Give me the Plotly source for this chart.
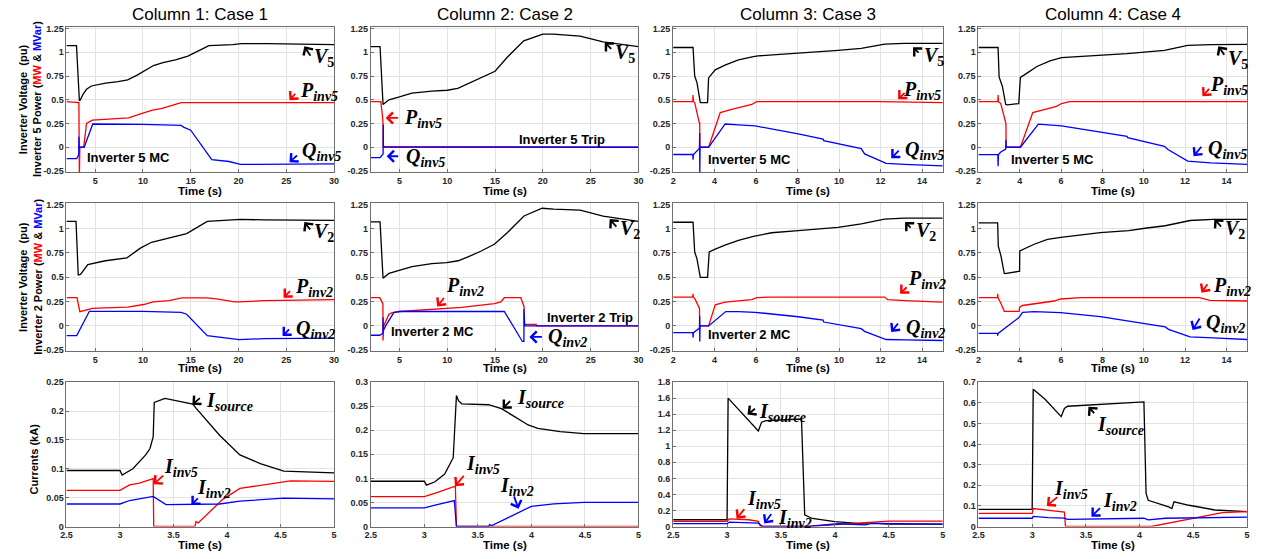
import plotly.graph_objects as go

BLACK, RED, BLUE = "#000000", "#ff0000", "#0000ff"

# ======================= DATA =======================
# ---- Row 1 : Inverter 5 voltage / power (time in s) ----
c1_v5_t = [2, 3.05, 3.35, 3.45, 3.75, 4.1, 4.6, 5.2, 6.1, 7.4, 8.4, 9.4, 10.3, 11.1, 12.1, 13.4, 14.7, 15.7, 16.9, 19.4, 20.3, 23, 30]
c1_v5 = [1.07, 1.07, 0.49, 0.50, 0.56, 0.61, 0.645, 0.66, 0.675, 0.69, 0.71, 0.76, 0.81, 0.86, 0.89, 0.92, 0.96, 1.01, 1.07, 1.08, 1.09, 1.09, 1.08]
c1_p5_t = [2, 3.3, 3.35, 3.4, 3.8, 4.1, 4.7, 6, 8.5, 10, 11, 12, 13, 14, 30]
c1_p5 = [0.48, 0.47, -0.3, 0.0, 0.0, 0.25, 0.285, 0.295, 0.31, 0.36, 0.39, 0.41, 0.44, 0.47, 0.47]
c1_q5_t = [2, 3.07, 3.28, 3.3, 3.33, 3.4, 3.85, 4.75, 8, 10, 12, 14, 14.3, 15, 17.2, 19, 20.2, 22, 30]
c1_q5 = [-0.12, -0.12, -0.08, 0.11, -0.02, 0.0, 0.0, 0.245, 0.245, 0.24, 0.235, 0.23, 0.21, 0.18, -0.13, -0.15, -0.18, -0.18, -0.175]

c2_v5_t = [2, 2.97, 3.28, 3.9, 5, 6.3, 8.4, 10, 11.1, 12.2, 13.2, 14.2, 15, 16.3, 18, 20, 21.1, 23.9, 26.3, 30]
c2_v5 = [1.06, 1.06, 0.45, 0.50, 0.53, 0.57, 0.59, 0.60, 0.62, 0.67, 0.71, 0.76, 0.80, 0.95, 1.12, 1.19, 1.19, 1.17, 1.11, 1.06]
c2_p5_t = [2, 3.05, 3.25, 3.28, 3.3, 30]
c2_p5 = [0.48, 0.48, 0.30, 0.25, 0.0, 0.0]
c2_q5_t = [2, 2.97, 3.2, 3.29, 3.3, 3.32, 3.5, 30]
c2_q5 = [-0.11, -0.11, -0.08, -0.07, 0.24, 0.01, 0.005, 0.0]

c3_v5_t = [2, 2.96, 3.04, 3.15, 3.31, 3.66, 3.71, 4.03, 4.5, 5.15, 5.87, 6.1, 8.03, 9.3, 9.95, 11.07, 12.2, 13.15, 15]
c3_v5 = [1.05, 1.05, 0.75, 0.68, 0.47, 0.47, 0.73, 0.815, 0.865, 0.92, 0.955, 0.962, 0.99, 1.007, 1.02, 1.04, 1.085, 1.094, 1.094]
c3_p5_t = [2, 2.95, 2.96, 2.98, 3.04, 3.2, 3.26, 3.28, 3.29, 3.71, 4.27, 4.83, 5.79, 6.03, 12, 15]
c3_p5 = [0.48, 0.48, 0.55, 0.48, 0.47, 0.30, 0.26, 0.26, 0.0, 0.0, 0.365, 0.40, 0.45, 0.48, 0.48, 0.47]
c3_q5_t = [2, 2.95, 2.96, 2.98, 3.23, 3.27, 3.28, 3.285, 3.3, 3.71, 4.51, 5.15, 5.95, 8.03, 9.23, 9.26, 11.07, 11.23, 12.27, 13.15, 15]
c3_q5 = [-0.076, -0.076, -0.13, -0.076, -0.02, -0.01, 0.15, -0.3, 0.0, 0.0, 0.245, 0.235, 0.225, 0.14, 0.087, 0.07, -0.015, -0.07, -0.17, -0.18, -0.195]

c4_v5_t = [2, 2.95, 3.0, 3.16, 3.32, 3.4, 3.95, 4.0, 4.03, 4.35, 4.83, 5.46, 6.02, 8.0, 9.19, 11.0, 12.13, 13.24, 15]
c4_v5 = [1.05, 1.05, 0.74, 0.64, 0.45, 0.446, 0.46, 0.6, 0.735, 0.78, 0.85, 0.91, 0.944, 0.97, 0.986, 1.02, 1.073, 1.08, 1.083]
c4_p5_t = [2, 2.94, 2.95, 2.97, 3.08, 3.24, 3.32, 3.33, 3.34, 4.03, 4.63, 5.3, 5.78, 6.02, 6.41, 15]
c4_p5 = [0.48, 0.48, 0.55, 0.48, 0.46, 0.31, 0.25, 0.25, 0.0, 0.0, 0.365, 0.40, 0.43, 0.46, 0.48, 0.48]
c4_q5_t = [2, 2.94, 2.95, 2.97, 3.08, 3.32, 3.33, 3.34, 4.03, 4.9, 6.02, 8.0, 9.19, 9.22, 11.0, 11.17, 12.13, 13.24, 15]
c4_q5 = [-0.077, -0.077, -0.2, -0.077, -0.05, -0.02, 0.08, 0.0, 0.0, 0.244, 0.226, 0.157, 0.115, 0.10, 0.01, -0.024, -0.146, -0.164, -0.18]

# ---- Row 2 : Inverter 2 voltage / power ----
c1_v2_t = [2, 3.0, 3.23, 3.47, 4.23, 5.07, 6.07, 8.33, 9.73, 10.9, 11.73, 13.4, 14.57, 16.73, 19.4, 20.2, 22.7, 30]
c1_v2 = [1.075, 1.075, 0.525, 0.53, 0.63, 0.65, 0.67, 0.70, 0.80, 0.86, 0.88, 0.925, 0.95, 1.075, 1.085, 1.095, 1.09, 1.085]
c1_p2_t = [2, 3.1, 3.4, 4.73, 6.07, 8.4, 10.07, 11.07, 12.73, 14.07, 16.7, 17.7, 19.57, 20.07, 22.7, 30]
c1_p2 = [0.29, 0.29, 0.146, 0.18, 0.186, 0.193, 0.22, 0.247, 0.26, 0.288, 0.288, 0.278, 0.247, 0.247, 0.26, 0.27]
c1_q2_t = [2, 3.07, 4.4, 5, 10, 14, 14.57, 16.73, 19.4, 20.07, 22.7, 30]
c1_q2 = [-0.10, -0.10, 0.15, 0.15, 0.15, 0.14, 0.12, -0.10, -0.135, -0.142, -0.13, -0.125]

c2_v2_t = [2, 2.97, 3.28, 3.9, 6.31, 8.38, 9.93, 11.14, 12.17, 13.55, 14.93, 16.3, 18.03, 19.93, 21.14, 23.9, 26.3, 30]
c2_v2 = [1.07, 1.07, 0.49, 0.54, 0.61, 0.64, 0.65, 0.67, 0.71, 0.77, 0.84, 0.96, 1.13, 1.21, 1.2, 1.19, 1.13, 1.075]
c2_p2_t = [2, 2.93, 3.21, 3.27, 3.28, 3.3, 3.35, 3.9, 4.24, 5, 8.38, 11.5, 14.93, 15.6, 15.97, 17.69, 18.03, 18.05, 19.3, 19.32, 30]
c2_p2 = [0.29, 0.29, 0.24, 0.22, -0.15, 0.0, 0.0, 0.12, 0.137, 0.148, 0.17, 0.19, 0.23, 0.247, 0.29, 0.29, 0.2, 0.015, 0.015, 0.0, 0.0]
c2_q2_t = [2, 2.93, 3.2, 3.27, 3.28, 3.3, 3.55, 4.41, 5, 15.97, 17.86, 18.02, 18.03, 18.1, 30]
c2_q2 = [-0.096, -0.096, -0.08, -0.07, 0.09, -0.05, 0.0, 0.137, 0.148, 0.148, -0.16, -0.16, 0.17, 0.0, 0.0]

c3_v2_t = [2, 2.96, 3.04, 3.15, 3.31, 3.66, 3.74, 4.03, 4.5, 5.15, 5.87, 6.75, 8.03, 9.23, 9.95, 11.07, 12.19, 13.15, 15]
c3_v2 = [1.066, 1.066, 0.76, 0.69, 0.50, 0.50, 0.76, 0.79, 0.83, 0.88, 0.92, 0.958, 0.979, 0.997, 1.014, 1.05, 1.098, 1.108, 1.108]
c3_p2_t = [2, 2.95, 2.96, 2.98, 3.07, 3.23, 3.27, 3.28, 3.71, 4.03, 4.5, 5.79, 6.03, 6.75, 12.19, 12.35, 13.15, 15]
c3_p2 = [0.297, 0.297, 0.33, 0.297, 0.27, 0.19, 0.18, 0.0, 0.0, 0.217, 0.245, 0.27, 0.29, 0.297, 0.297, 0.27, 0.26, 0.245]
c3_q2_t = [2, 2.95, 2.96, 2.98, 3.23, 3.27, 3.28, 3.285, 3.3, 3.71, 4.54, 5.15, 5.95, 8.03, 9.23, 9.26, 11.07, 11.23, 12.27, 13.15, 15]
c3_q2 = [-0.07, -0.07, -0.12, -0.07, -0.03, -0.02, 0.10, -0.16, 0.0, 0.0, 0.147, 0.147, 0.14, 0.094, 0.06, 0.04, -0.028, -0.056, -0.14, -0.143, -0.15]

c4_v2_t = [2, 2.93, 2.96, 3.09, 3.25, 3.28, 3.93, 3.99, 4.0, 4.21, 4.7, 5.34, 5.98, 7.9, 9.27, 10.15, 11.04, 12.24, 13.36, 15]
c4_v2 = [1.06, 1.06, 0.82, 0.72, 0.54, 0.537, 0.56, 0.56, 0.77, 0.79, 0.84, 0.89, 0.91, 0.96, 0.98, 1.007, 1.03, 1.084, 1.095, 1.095]
c4_p2_t = [2, 2.92, 2.93, 2.95, 3.09, 3.25, 3.97, 3.99, 4.13, 5.02, 5.66, 5.98, 6.94, 12.7, 13.2, 15]
c4_p2 = [0.29, 0.29, 0.33, 0.29, 0.23, 0.15, 0.15, 0.19, 0.21, 0.235, 0.256, 0.277, 0.29, 0.29, 0.263, 0.256]
c4_q2_t = [2, 2.92, 2.93, 2.95, 3.97, 4.13, 4.7, 5.98, 7.9, 9.27, 10.15, 11.04, 11.2, 12.24, 13.36, 15]
c4_q2 = [-0.077, -0.077, -0.1, -0.077, 0.088, 0.14, 0.147, 0.137, 0.095, 0.046, 0.018, -0.01, -0.035, -0.112, -0.123, -0.14]

# ---- Row 3 : currents (kA) ----
c1_is_t = [2.5, 3.0, 3.02, 3.12, 3.24, 3.28, 3.31, 3.32, 3.42, 3.68, 3.71, 3.93, 4.12, 4.31, 4.53, 5]
c1_is = [0.097, 0.097, 0.089, 0.10, 0.124, 0.135, 0.155, 0.215, 0.222, 0.212, 0.205, 0.158, 0.124, 0.109, 0.096, 0.093]
c1_i5_t = [2.5, 3.0, 3.09, 3.18, 3.31, 3.315, 3.7, 3.71, 3.73, 3.96, 4.12, 4.59, 5]
c1_i5 = [0.0626, 0.0626, 0.072, 0.075, 0.083, 0.0, 0.0, 0.0085, 0.006, 0.047, 0.066, 0.079, 0.078]
c1_i2_t = [2.5, 3.0, 3.09, 3.31, 3.43, 3.93, 4.12, 4.53, 5]
c1_i2 = [0.039, 0.039, 0.045, 0.052, 0.038, 0.039, 0.044, 0.049, 0.048]

c2_is_t = [2.5, 3.0, 3.02, 3.1, 3.19, 3.27, 3.3, 3.32, 3.35, 3.6, 3.72, 3.97, 4.06, 4.27, 4.49, 5]
c2_is = [0.094, 0.094, 0.086, 0.093, 0.109, 0.143, 0.272, 0.261, 0.255, 0.253, 0.245, 0.211, 0.204, 0.197, 0.193, 0.193]
c2_i5_t = [2.5, 3.0, 3.11, 3.29, 3.3, 5]
c2_i5 = [0.062, 0.062, 0.07, 0.084, 0.0, 0.0]
c2_i2_t = [2.5, 3.0, 3.11, 3.28, 3.3, 3.6, 3.61, 3.63, 4.0, 4.21, 4.49, 5]
c2_i2 = [0.0385, 0.0385, 0.045, 0.054, 0.0, 0.0, 0.004, 0.002, 0.042, 0.047, 0.05, 0.05]

c3_is_t = [2.5, 3.0, 3.01, 3.29, 3.32, 3.36, 3.69, 3.72, 3.79, 4.0, 4.3, 4.305, 4.32, 4.5, 5]
c3_is = [0.084, 0.084, 1.60, 1.19, 1.30, 1.32, 1.34, 0.146, 0.10, 0.06, 0.03, 0.05, 0.045, 0.03, 0.03]
c3_i5_t = [2.5, 3.0, 3.02, 3.2, 3.29, 3.31, 3.75, 4.34, 4.5, 5]
c3_i5 = [0.063, 0.063, 0.096, 0.084, 0.063, 0.0, 0.0, 0.06, 0.068, 0.068]
c3_i2_t = [2.5, 3.0, 3.02, 3.29, 3.33, 3.75, 4.03, 4.28, 4.34, 5]
c3_i2 = [0.035, 0.035, 0.054, 0.042, 0.0, 0.0, 0.034, 0.02, 0.04, 0.03]

c4_is_t = [2.5, 3.0, 3.01, 3.09, 3.12, 3.27, 3.3, 3.33, 4.04, 4.06, 4.08, 4.27, 4.3, 4.32, 4.46, 4.7, 5]
c4_is = [0.083, 0.083, 0.665, 0.628, 0.617, 0.533, 0.572, 0.583, 0.604, 0.16, 0.127, 0.095, 0.087, 0.12, 0.103, 0.08, 0.072]
c4_i5_t = [2.5, 3.0, 3.01, 3.27, 3.3, 3.31, 4.11, 4.77, 5]
c4_i5 = [0.064, 0.064, 0.087, 0.072, 0.07, 0.0, 0.0, 0.067, 0.072]
c4_i2_t = [2.5, 3.0, 3.01, 3.15, 3.3, 3.33, 4.04, 4.08, 4.24, 5]
c4_i2 = [0.04, 0.04, 0.049, 0.043, 0.041, 0.035, 0.04, 0.032, 0.04, 0.045]

# ---- ticks ----
pq_ticks = [-0.25, 0, 0.25, 0.5, 0.75, 1, 1.25]
pq_ticktext = ["-0.25", "0", "0.25", "0.5", "0.75", "1", "1.25"]
long_xticks = [5, 10, 15, 20, 25, 30]
short_xticks = [2, 4, 6, 8, 10, 12, 14]
cur_xticks = [2.5, 3, 3.5, 4, 4.5, 5]
cur1_ticks = [0, 0.05, 0.1, 0.15, 0.2, 0.25]
cur1_ticktext = ["0", "0.05", "0.1", "0.15", "0.2", "0.25"]
cur2_ticks = [0, 0.05, 0.1, 0.15, 0.2, 0.25, 0.3]
cur2_ticktext = ["0", "0.05", "0.1", "0.15", "0.2", "0.25", "0.3"]
cur3_ticks = [0, 0.2, 0.4, 0.6, 0.8, 1, 1.2, 1.4, 1.6, 1.8]
cur3_ticktext = ["0", "0.2", "0.4", "0.6", "0.8", "1", "1.2", "1.4", "1.6", "1.8"]
cur4_ticks = [0, 0.1, 0.2, 0.3, 0.4, 0.5, 0.6, 0.7]
cur4_ticktext = ["0", "0.1", "0.2", "0.3", "0.4", "0.5", "0.6", "0.7"]

col_titles = ["Column 1: Case 1", "Column 2: Case 2", "Column 3: Case 3", "Column 4: Case 4"]

# ======================= LAYOUT =======================
W, H = 1261, 559
col_px = [(61, 331), (368, 638), (673, 945), (981, 1252)]   # page pixels
row_px = [(22, 170), (202, 352), (384, 531)]

SANS = "Liberation Sans, Arial, sans-serif"
MATH = "Liberation Serif, Times New Roman, serif"

def px(x, y):
    return x / W, 1 - y / H

panels = {
    (0, 0): dict(tr=[(c1_v5_t, c1_v5, BLACK), (c1_p5_t, c1_p5, RED), (c1_q5_t, c1_q5, BLUE)],
                 xr=[2, 30], xt=long_xticks, yr=[-0.26, 1.27], yt=pq_ticks, ytt=pq_ticktext),
    (0, 1): dict(tr=[(c2_v5_t, c2_v5, BLACK), (c2_p5_t, c2_p5, RED), (c2_q5_t, c2_q5, BLUE)],
                 xr=[2, 30], xt=long_xticks, yr=[-0.26, 1.27], yt=pq_ticks, ytt=pq_ticktext),
    (0, 2): dict(tr=[(c3_v5_t, c3_v5, BLACK), (c3_p5_t, c3_p5, RED), (c3_q5_t, c3_q5, BLUE)],
                 xr=[2, 15], xt=short_xticks, yr=[-0.26, 1.27], yt=pq_ticks, ytt=pq_ticktext),
    (0, 3): dict(tr=[(c4_v5_t, c4_v5, BLACK), (c4_p5_t, c4_p5, RED), (c4_q5_t, c4_q5, BLUE)],
                 xr=[2, 15], xt=short_xticks, yr=[-0.26, 1.27], yt=pq_ticks, ytt=pq_ticktext),
    (1, 0): dict(tr=[(c1_v2_t, c1_v2, BLACK), (c1_p2_t, c1_p2, RED), (c1_q2_t, c1_q2, BLUE)],
                 xr=[2, 30], xt=long_xticks, yr=[-0.255, 1.26], yt=pq_ticks, ytt=pq_ticktext),
    (1, 1): dict(tr=[(c2_v2_t, c2_v2, BLACK), (c2_p2_t, c2_p2, RED), (c2_q2_t, c2_q2, BLUE)],
                 xr=[2, 30], xt=long_xticks, yr=[-0.255, 1.26], yt=pq_ticks, ytt=pq_ticktext),
    (1, 2): dict(tr=[(c3_v2_t, c3_v2, BLACK), (c3_p2_t, c3_p2, RED), (c3_q2_t, c3_q2, BLUE)],
                 xr=[2, 15], xt=short_xticks, yr=[-0.255, 1.26], yt=pq_ticks, ytt=pq_ticktext),
    (1, 3): dict(tr=[(c4_v2_t, c4_v2, BLACK), (c4_p2_t, c4_p2, RED), (c4_q2_t, c4_q2, BLUE)],
                 xr=[2, 15], xt=short_xticks, yr=[-0.255, 1.26], yt=pq_ticks, ytt=pq_ticktext),
    (2, 0): dict(tr=[(c1_is_t, c1_is, BLACK), (c1_i5_t, c1_i5, RED), (c1_i2_t, c1_i2, BLUE)],
                 xr=[2.5, 5], xt=cur_xticks, yr=[0, 0.25], yt=cur1_ticks, ytt=cur1_ticktext),
    (2, 1): dict(tr=[(c2_is_t, c2_is, BLACK), (c2_i5_t, c2_i5, RED), (c2_i2_t, c2_i2, BLUE)],
                 xr=[2.5, 5], xt=cur_xticks, yr=[0, 0.3], yt=cur2_ticks, ytt=cur2_ticktext),
    (2, 2): dict(tr=[(c3_is_t, c3_is, BLACK), (c3_i5_t, c3_i5, RED), (c3_i2_t, c3_i2, BLUE)],
                 xr=[2.5, 5], xt=cur_xticks, yr=[0, 1.8], yt=cur3_ticks, ytt=cur3_ticktext),
    (2, 3): dict(tr=[(c4_is_t, c4_is, BLACK), (c4_i5_t, c4_i5, RED), (c4_i2_t, c4_i2, BLUE)],
                 xr=[2.5, 5], xt=cur_xticks, yr=[0, 0.7], yt=cur4_ticks, ytt=cur4_ticktext),
}

fig = go.Figure()
layout = {}
for (r, c), p in panels.items():
    k = r * 4 + c + 1
    xs = "" if k == 1 else str(k)
    x0, x1 = col_px[c]
    y0, y1 = row_px[r]
    for t, v, color in p["tr"]:
        fig.add_trace(go.Scatter(x=t, y=v, mode="lines", line=dict(color=color, width=1.3),
                                 xaxis="x" + xs, yaxis="y" + xs, hoverinfo="skip", showlegend=False))
    common = dict(showline=True, mirror=True, linecolor="#6e6e6e", linewidth=1,
                  showgrid=True, gridcolor="#e3e3e3", gridwidth=1, zeroline=False,
                  ticks="inside", ticklen=3, tickcolor="#6e6e6e",
                  tickfont=dict(family=SANS, size=9, color="#262626", weight="bold"))
    layout["xaxis" + xs] = dict(common, domain=[x0 / W, x1 / W], range=p["xr"],
                                tickvals=p["xt"], anchor="y" + xs)
    layout["yaxis" + xs] = dict(common, domain=[1 - y1 / H, 1 - y0 / H], range=p["yr"],
                                tickvals=p["yt"], ticktext=p["ytt"], anchor="x" + xs)

anns = []
for c, title in enumerate(col_titles):
    cx = (col_px[c][0] + col_px[c][1]) / 2
    x, y = px(cx, 10)
    anns.append(dict(x=x, y=y, xref="paper", yref="paper", text=title, showarrow=False,
                     font=dict(family=SANS, size=17, color="#000"), xanchor="center", yanchor="middle"))
for r, ty in enumerate([189, 370, 550]):
    for c in range(4):
        cx = (col_px[c][0] + col_px[c][1]) / 2
        x, y = px(cx, ty)
        anns.append(dict(x=x, y=y, xref="paper", yref="paper", text="Time (s)", showarrow=False,
                         font=dict(family=SANS, size=11.5, color="#000", weight="bold"),
                         xanchor="center", yanchor="middle"))

def ytitle(text, xc, yc):
    x, y = px(xc, yc)
    anns.append(dict(x=x, y=y, xref="paper", yref="paper", text=text, showarrow=False, textangle=-90,
                     font=dict(family=SANS, size=11, color="#000", weight="bold"),
                     xanchor="center", yanchor="middle"))

ytitle("Inverter Voltage  (pu)", 17, 96)
ytitle("Inverter 5 Power (<span style='color:#ff0000'>MW</span> &amp; <span style='color:#0000ff'>MVar</span>)", 32, 96)
ytitle("Inverter Voltage  (pu)", 17, 277)
ytitle("Inverter 2 Power (<span style='color:#ff0000'>MW</span> &amp; <span style='color:#0000ff'>MVar</span>)", 32, 277)
ytitle("Currents (kA)", 28, 462)

def note(text, xl, yc):
    x, y = px(xl, yc)
    anns.append(dict(x=x, y=y, xref="paper", yref="paper", text=text, showarrow=False,
                     font=dict(family=SANS, size=13, color="#000", weight="bold"),
                     xanchor="left", yanchor="middle"))

note("Inverter 5 MC", 80, 155)
note("Inverter 5 Trip", 516, 137)
note("Inverter 5 MC", 706, 157)
note("Inverter 5 MC", 1012, 157)
note("Inverter 2 MC", 386, 332)
note("Inverter 2 Trip", 544, 318)
note("Inverter 2 MC", 706, 335)

def arrow(tip, tail, color):
    x, y = px(*tip)
    anns.append(dict(x=x, y=y, xref="paper", yref="paper", text="", showarrow=True,
                     ax=tail[0] - tip[0], ay=tail[1] - tip[1], arrowhead=4, arrowsize=1.2,
                     arrowwidth=1.8, arrowcolor=color))

def label(text, xl, yc, size=20):
    x, y = px(xl, yc)
    anns.append(dict(x=x, y=y, xref="paper", yref="paper", text=text, showarrow=False,
                     font=dict(family=MATH, size=size, color="#000"), xanchor="left", yanchor="middle"))

V5 = "<b><i>V</i><sub>5</sub></b>"
V2 = "<b><i>V</i><sub>2</sub></b>"
P5 = "<b><i>P<sub>inv5</sub></i></b>"
Q5 = "<b><i>Q<sub>inv5</sub></i></b>"
P2 = "<b><i>P<sub>inv2</sub></i></b>"
Q2 = "<b><i>Q<sub>inv2</sub></i></b>"
IS = "<b><i>I<sub>source</sub></i></b>"
I5 = "<b><i>I<sub>inv5</sub></i></b>"
I2 = "<b><i>I<sub>inv2</sub></i></b>"

marks = [
    ((301, 42), (308, 53), BLACK, V5, 309, 53),
    ((286, 97), (293, 89), RED, P5, 295, 88),
    ((286, 160), (295, 152), BLUE, Q5, 297, 149),
    ((604, 38), (612, 46), BLACK, V5, 612, 49),
    ((383, 115), (397, 115), RED, P5, 399, 116),
    ((384, 154), (397, 154), BLUE, Q5, 401, 155),
    ((915, 43), (922, 50), BLACK, V5, 924, 52),
    ((900, 96), (908, 88), RED, P5, 903, 87),
    ((893, 156), (902, 147), BLUE, Q5, 905, 148),
    ((1223, 42), (1230, 52), BLACK, V5, 1231, 56),
    ((1207, 93), (1215, 84), RED, P5, 1213, 82),
    ((1198, 154), (1207, 143), BLUE, Q5, 1211, 147),
    ((301, 221), (308, 230), BLACK, V2, 309, 232),
    ((280, 298), (288, 290), RED, P2, 290, 288),
    ((279, 337), (287, 329), BLUE, Q2, 291, 330),
    ((609, 218), (617, 227), BLACK, V2, 617, 229),
    ((435, 307), (443, 297), RED, P2, 442, 287),
    ((528, 338), (542, 338), BLUE, Q2, 545, 339),
    ((907, 221), (914, 228), BLACK, V2, 916, 231),
    ((902, 294), (910, 286), RED, P2, 908, 279),
    ((893, 333), (901, 323), BLUE, Q2, 906, 329),
    ((1219, 218), (1227, 227), BLACK, V2, 1228, 229),
    ((1206, 293), (1213, 283), RED, P2, 1216, 287),
    ((1197, 331), (1205, 318), BLUE, Q2, 1209, 324),
    ((188, 407), (197, 399), BLACK, IS, 200, 404),
    ((149, 488), (160, 478), RED, I5, 157, 471),
    ((187, 509), (195, 501), BLUE, I2, 191, 492),
    ((501, 411), (510, 402), BLACK, IS, 513, 401),
    ((453, 490), (463, 478), RED, I5, 462, 468),
    ((517, 513), (512, 499), BLUE, I2, 496, 490),
    ((748, 417), (757, 410), BLACK, IS, 758, 415),
    ((737, 523), (746, 512), RED, I5, 746, 503),
    ((765, 528), (773, 517), BLUE, I2, 777, 523),
    ((1092, 409), (1099, 417), BLACK, IS, 1099, 428),
    ((1050, 510), (1062, 500), RED, I5, 1055, 493),
    ((1095, 521), (1105, 511), BLUE, I2, 1105, 506),
]
for tip, tail, color, txt, lx, ly in marks:
    arrow(tip, tail, color)
    label(txt, lx, ly)

layout["annotations"] = anns
fig.update_layout(**layout)
fig.update_layout(width=W, height=H, margin=dict(l=0, r=0, t=0, b=0),
                  plot_bgcolor="white", paper_bgcolor="white", showlegend=False)

# remove the browser's default 8 px page margin so the figure fills the window exactly
fig.write_html("out.html", config={"displayModeBar": False},
               post_script="document.body.style.margin='0';document.body.style.overflow='hidden';")
